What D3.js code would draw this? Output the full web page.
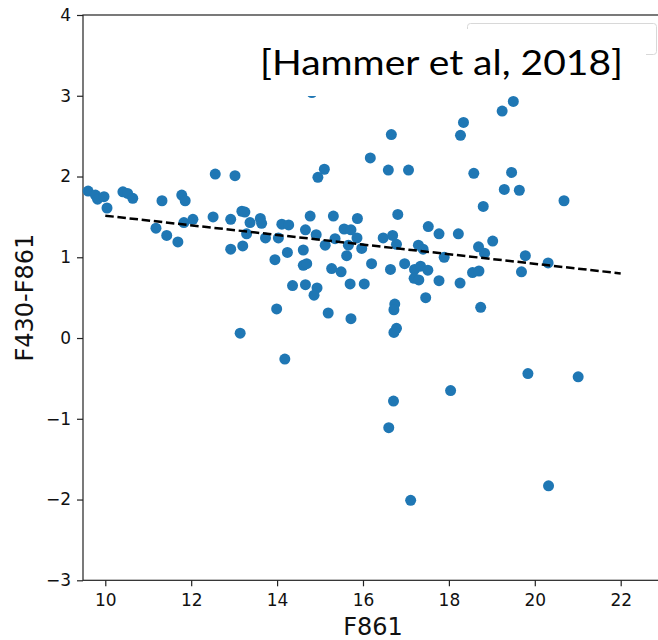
<!DOCTYPE html>
<html>
<head>
<meta charset="utf-8">
<script src="https://cdn.jsdelivr.net/npm/d3@7"></script>
<style>
  html, body { margin: 0; padding: 0; background: #fff; }
  svg { display: block; }
</style>
</head>
<body>
<svg id="chart" width="658" height="640"></svg>
<script>
// F861 magnitude vs. F430-F861 colour for each source
const f861 = [
  9.60, 9.77, 9.82, 9.97, 10.04, 10.41, 10.52, 10.64, 11.32, 11.78,
  11.86, 12.56, 13.02, 11.18, 11.43, 11.69, 11.83, 12.04, 12.51, 12.92,
  12.92, 13.14, 13.18, 13.25, 13.37, 13.29, 13.20, 13.61, 13.64, 13.73,
  14.03, 14.11, 14.27, 13.95, 14.24, 14.61, 14.77, 14.66, 14.91, 14.95,
  15.10, 14.61, 14.69, 14.36, 14.66, 14.93, 14.86, 13.99, 14.18, 14.81,
  15.12, 15.19, 15.31, 15.35, 15.56, 15.72, 15.87, 15.86, 15.66, 15.62,
  15.97, 16.20, 16.47, 15.27, 15.49, 15.70, 16.03, 15.72, 16.17, 16.66,
  16.59, 17.06, 16.81, 16.69, 16.78, 16.64, 16.97, 17.20, 17.34, 17.51,
  17.19, 17.30, 16.74, 16.72, 16.78, 16.72, 16.71, 16.60, 17.11, 17.29,
  17.40, 17.52, 17.77, 18.22, 17.89, 18.69, 18.83, 19.02, 19.78, 20.31,
  19.69, 18.55, 18.70, 17.77, 18.26, 17.46, 18.74, 18.34, 18.27, 19.24,
  19.50, 18.58, 19.46, 19.29, 19.64, 18.80, 20.68, 19.84, 21.01, 18.04,
  20.32
];
const f430f861 = [
  1.82, 1.77, 1.72, 1.75, 1.61, 1.81, 1.79, 1.73, 1.70, 1.77,
  1.70, 2.03, 2.01, 1.36, 1.27, 1.19, 1.43, 1.47, 1.50, 1.47,
  1.10, 0.06, 1.57, 1.56, 1.43, 1.29, 1.14, 1.48, 1.42, 1.24,
  1.24, 1.41, 1.40, 0.97, 1.06, 1.09, 1.51, 1.34, 1.28, 1.99,
  2.09, 0.90, 0.92, 0.65, 0.66, 0.62, 0.53, 0.36, -0.26, 3.04,
  1.15, 0.31, 1.51, 1.23, 1.35, 1.34, 1.48, 1.24, 1.15, 1.02,
  1.11, 0.92, 1.24, 0.86, 0.82, 0.67, 0.67, 0.24, 2.23, 2.52,
  2.08, 2.08, 1.53, 1.27, 1.16, 0.85, 0.92, 0.85, 0.89, 0.84,
  0.74, 0.72, 0.42, 0.35, 0.12, 0.07, -0.78, -1.11, -2.01, 1.15,
  1.10, 1.38, 1.29, 1.29, 1.00, 1.13, 1.05, 1.20, 1.02, 0.93,
  0.82, 0.81, 0.83, 0.71, 0.68, 0.50, 0.38, 2.67, 2.51, 2.81,
  2.93, 2.04, 2.05, 1.84, 1.83, 1.63, 1.70, -0.44, -0.48, -0.65,
  -1.83
];

// Linear trend line end points
const fitX = [10, 22];
const fitY = [1.515, 0.80];

const xTicks = [10, 12, 14, 16, 18, 20, 22];
const yTicks = [-3, -2, -1, 0, 1, 2, 3, 4];

const xLabel = "F861";
const yLabel = "F430-F861";
const citation = "[Hammer et al, 2018]";

const svg = d3.select("#chart");
const margin = { left: 83, top: 15, right: 663, bottom: 580.3 };

const x = d3.scaleLinear().domain([9.481, 22.985]).range([margin.left, margin.right]);
const y = d3.scaleLinear().domain([-3, 4]).range([margin.bottom, margin.top]);

const tickFont = "DejaVu Sans, sans-serif";

// Axes
const xAxis = svg.append("g")
  .attr("transform", `translate(0,${margin.bottom})`)
  .call(d3.axisBottom(x).tickValues(xTicks).tickSize(6).tickPadding(8)
    .tickFormat(d3.format("d")));
const yAxis = svg.append("g")
  .attr("transform", `translate(${margin.left},0)`)
  .call(d3.axisLeft(y).tickValues(yTicks).tickSize(6).tickPadding(6)
    .tickFormat(d => d < 0 ? "\u2212" + Math.abs(d) : String(d)));

[xAxis, yAxis].forEach(g => {
  g.select(".domain").remove();
  g.selectAll(".tick line").attr("stroke", "#222").attr("stroke-width", 1.2);
  g.selectAll(".tick text")
    .attr("fill", "#111")
    .style("font-family", tickFont)
    .style("font-size", "17px");
});

// Frame (spines)
svg.append("rect")
  .attr("x", margin.left)
  .attr("y", margin.top)
  .attr("width", margin.right - margin.left)
  .attr("height", margin.bottom - margin.top)
  .attr("fill", "none")
  .attr("stroke", "#222")
  .attr("stroke-width", 1.2);

// Scatter points
svg.append("g")
  .selectAll("circle")
  .data(f861.map((v, i) => [v, f430f861[i]]))
  .join("circle")
  .attr("cx", d => x(d[0]))
  .attr("cy", d => y(d[1]))
  .attr("r", 5.5)
  .attr("fill", "#1f77b4");

// Dashed trend line
svg.append("path")
  .datum(fitX.map((v, i) => [v, fitY[i]]))
  .attr("d", d3.line().x(d => x(d[0])).y(d => y(d[1])))
  .attr("fill", "none")
  .attr("stroke", "#000")
  .attr("stroke-width", 2.5)
  .attr("stroke-dasharray", "8.5,3.7");

// Axis labels
svg.append("text")
  .attr("x", (margin.left + margin.right) / 2)
  .attr("y", 635)
  .attr("text-anchor", "middle")
  .style("font-family", tickFont)
  .style("font-size", "24px")
  .attr("fill", "#111")
  .text(xLabel);

svg.append("text")
  .attr("transform", `translate(33,${(margin.top + margin.bottom) / 2}) rotate(-90)`)
  .attr("text-anchor", "middle")
  .style("font-family", tickFont)
  .style("font-size", "24px")
  .attr("fill", "#111")
  .text(yLabel);

// Legend frame (upper right)
svg.append("rect")
  .attr("x", 467.5).attr("y", 23.5)
  .attr("width", 189).attr("height", 31)
  .attr("rx", 3)
  .attr("fill", "#fff")
  .attr("stroke", "#d8d8d8")
  .attr("stroke-width", 1);

// Citation box with white background
svg.append("rect")
  .attr("x", 248).attr("y", 29)
  .attr("width", 398).attr("height", 67)
  .attr("fill", "#fff");

svg.append("text")
  .attr("x", 260)
  .attr("y", 75)
  .attr("textLength", 363)
  .attr("lengthAdjust", "spacingAndGlyphs")
  .style("font-family", "Lato, 'Open Sans', sans-serif")
  .style("font-size", "35px")
  .attr("fill", "#000")
  .text(citation);
</script>
</body>
</html>
